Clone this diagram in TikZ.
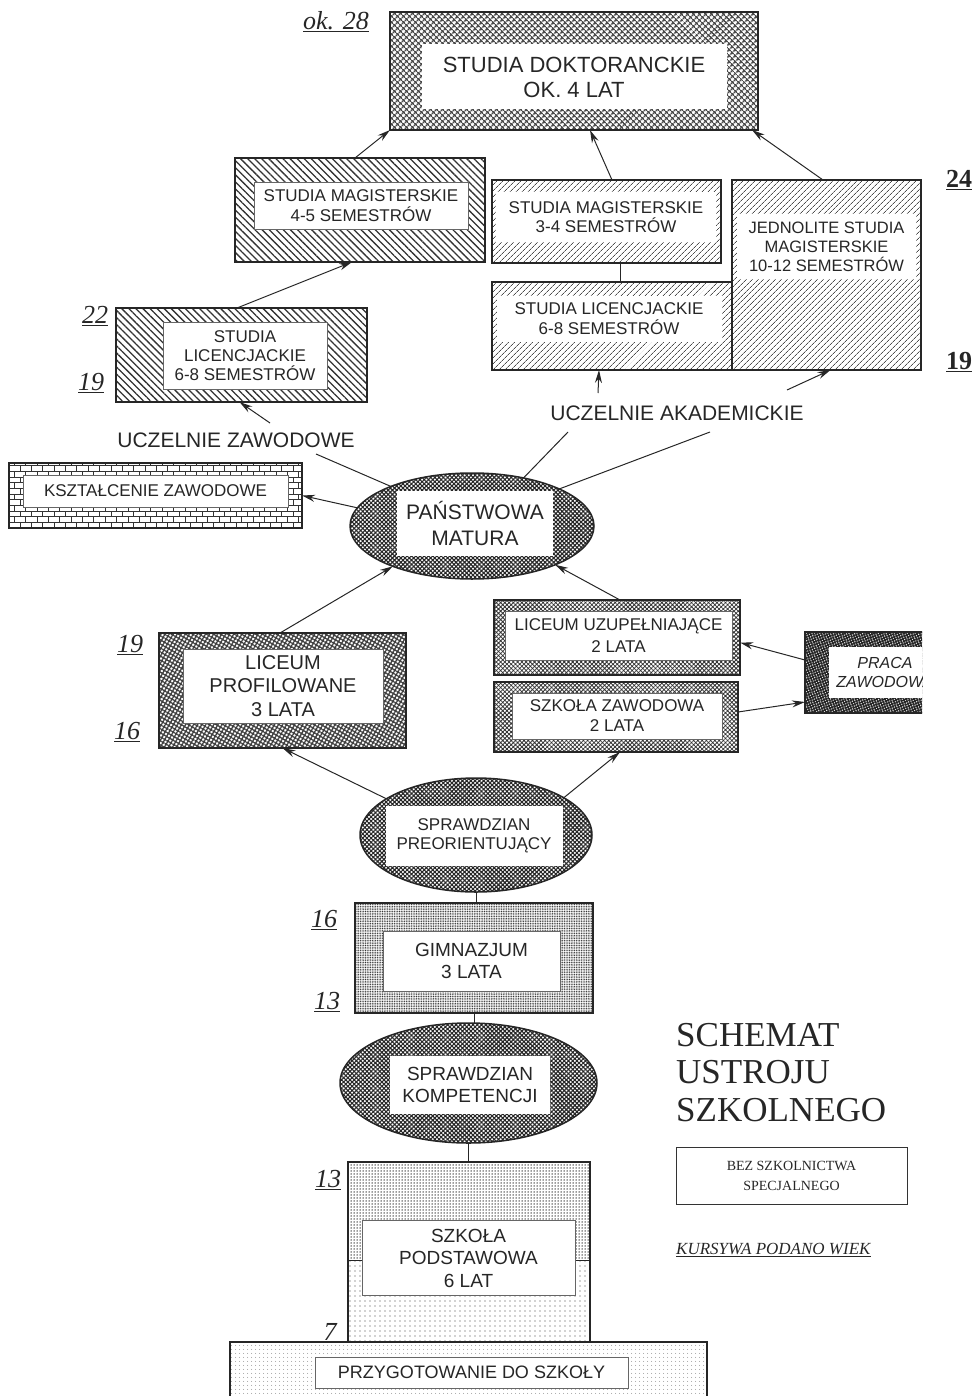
\documentclass[tikz,border=0pt]{standalone}
\usepackage{fontspec}
\setmainfont{Liberation Serif}
\setsansfont{Liberation Sans}
\usetikzlibrary{shapes.geometric,patterns,patterns.meta,arrows.meta}
\newcommand\myfs[2]{\fontsize{#1}{#2}\selectfont}
\begin{document}
\begin{tikzpicture}[x=1pt,y=-1pt,
  outer/.style={draw=black!85, line width=1.5pt, inner sep=0pt, outer sep=0pt},
  inbox/.style={draw=black!60, line width=0.5pt, fill=white, inner sep=0pt, align=center, text=black!85},
  tx/.style 2 args={font=\sffamily\myfs{#1}{#2}},
  hatchNW/.style={pattern={Lines[angle=-45,distance=5pt,line width=1.3pt]}, pattern color=black!80},
  hatchNE/.style={pattern={Lines[angle=45,distance=4pt,line width=0.8pt]}, pattern color=black!70},
  maze/.style={pattern={Hatch[angle=45,distance=4pt,line width=1.4pt]}, pattern color=black!70},
  checker/.style={pattern={Hatch[angle=45,distance=3pt,line width=1.1pt]}, pattern color=black!85},
  texprof/.style={pattern={Hatch[angle=60,distance=3.5pt,line width=1.3pt]}, pattern color=black!75},
  texuz/.style={pattern={Hatch[angle=45,distance=3pt,line width=0.8pt]}, pattern color=black!80},
  texpraca/.style={pattern={Hatch[angle=20,distance=2.5pt,line width=1.4pt]}, pattern color=black!85},
  brick/.style={pattern=bricks, pattern color=black!80},
  fined/.style={pattern={Dots[radius=0.6pt,distance=1.7pt]}, pattern color=black!80},
  densd/.style={pattern={Dots[radius=0.75pt,distance=3pt]}, pattern color=black!80},
  sparsed/.style={pattern={Dots[radius=0.7pt,distance=5pt]}, pattern color=black!75},
  speck/.style={pattern={Dots[radius=0.55pt,distance=4pt]}, pattern color=black!55},
  age/.style={font=\itshape\myfs{26}{30}, text=black!85, inner sep=0pt},
  rage/.style={font=\bfseries\myfs{26}{30}, text=black!85, inner sep=0pt},
  lbl/.style={tx={21}{25}, text=black!85, inner sep=0pt},
  arr/.style={draw=black!85, line width=1pt, -{Stealth[length=13pt,width=7pt]}},
  ln/.style={draw=black!85, line width=1pt}]
\useasboundingbox (0,0) rectangle (973,1396);
\clip (0,0) rectangle (973,1396);

% Studia doktoranckie
\node[outer, maze, minimum width=368pt, minimum height=118pt] (dok) at (574,71) {};
\node[inbox, draw=none, tx={22}{25}, minimum width=305pt, minimum height=65pt] (dokt) at (574,77) {STUDIA DOKTORANCKIE\\OK. 4 LAT};
\node[age] (a28) at (336,22) {\underline{ok. 28}};

% Studia magisterskie 4-5
\node[outer, hatchNW, minimum width=250pt, minimum height=104pt] (m45) at (360,210) {};
\node[inbox, tx={17}{20}, minimum width=214pt, minimum height=47pt] (m45t) at (361,206) {STUDIA MAGISTERSKIE\\4-5 SEMESTRÓW};

% Studia licencjackie (zawodowe)
\node[outer, hatchNW, minimum width=251pt, minimum height=94pt] (lzaw) at (241.5,355) {};
\node[inbox, tx={17}{19}, minimum width=164pt, minimum height=67pt] (lzawt) at (245,356) {STUDIA\\LICENCJACKIE\\6-8 SEMESTRÓW};
\node[age] (a22) at (95,316) {\underline{22}};
\node[age] (a19a) at (91,383) {\underline{19}};

% Akademickie
\node[outer, hatchNE, minimum width=229pt, minimum height=83pt] (m34) at (606.5,221.5) {};
\node[inbox, draw=none, tx={17}{19}, minimum width=220pt, minimum height=50pt] (m34t) at (606,217) {STUDIA MAGISTERSKIE\\3-4 SEMESTRÓW};
\node[outer, hatchNE, minimum width=240pt, minimum height=88pt] (lakad) at (612,326) {};
\node[inbox, draw=none, tx={17}{20}, minimum width=225pt, minimum height=46pt] (lakadt) at (609,319) {STUDIA LICENCJACKIE\\6-8 SEMESTRÓW};
\node[outer, hatchNE, minimum width=189pt, minimum height=190pt] (jedn) at (826.5,275) {};
\node[inbox, draw=none, tx={16.5}{19}, minimum width=179pt, minimum height=65pt] (jednt) at (826.5,247) {JEDNOLITE STUDIA\\MAGISTERSKIE\\10-12 SEMESTRÓW};
\node[rage] (a24) at (959,180) {\underline{24}};
\node[rage] (a19b) at (959,362) {\underline{19}};

% Labels of universities
\node[lbl] (uzaw) at (236,440) {UCZELNIE ZAWODOWE};
\node[lbl] (uakad) at (677,413) {UCZELNIE AKADEMICKIE};
\coordinate (czw) at (316,454);
\coordinate (czw2) at (270,423);
\coordinate (cak1) at (568,432);
\coordinate (cak2) at (710,432);
\coordinate (cak3) at (598,393);
\coordinate (cak4) at (787,390);

% Ksztalcenie zawodowe
\node[outer, brick, minimum width=293pt, minimum height=65pt] (ksz) at (155.5,495.5) {};
\node[inbox, tx={17}{20}, minimum width=265pt, minimum height=32pt] (kszt) at (155.5,491) {KSZTAŁCENIE ZAWODOWE};

% Matura
\node[ellipse, outer, checker, minimum width=244pt, minimum height=106pt] (mat) at (472,526) {};
\node[inbox, draw=none, tx={21}{26}, minimum width=156pt, minimum height=65pt] (matt) at (475,523) {PAŃSTWOWA\\MATURA};

% Liceum profilowane
\node[outer, texprof, minimum width=247pt, minimum height=115pt] (lprof) at (282.5,690.5) {};
\node[inbox, tx={20}{23.5}, minimum width=200pt, minimum height=74pt] (lproft) at (283,686) {LICEUM\\PROFILOWANE\\3 LATA};
\node[age] (a19c) at (130,645) {\underline{19}};
\node[age] (a16a) at (127,732) {\underline{16}};

% Liceum uzupelniajace, szkola zawodowa
\node[outer, texuz, minimum width=246pt, minimum height=75pt] (luz) at (617,637.5) {};
\node[inbox, tx={17}{22}, minimum width=227pt, minimum height=49pt] (luzt) at (618.5,635.5) {LICEUM UZUPEŁNIAJĄCE\\2 LATA};
\node[outer, texuz, minimum width=244pt, minimum height=70pt] (szk) at (616,717) {};
\node[inbox, tx={17}{20}, minimum width=210pt, minimum height=46pt] (szkt) at (617,716) {SZKOŁA ZAWODOWA\\2 LATA};

% Praca zawodowa (cut at the right)
\begin{scope}
\clip (790,600) rectangle (922,730);
\node[outer, texpraca, minimum width=140pt, minimum height=81pt] (praca) at (875,672.5) {};
\node[inbox, draw=none, font=\sffamily\itshape\myfs{16}{19}, minimum width=112pt, minimum height=51pt] (pracat) at (885,672) {PRACA\\ZAWODOWA};
\end{scope}

% Sprawdzian preorientujacy
\node[ellipse, outer, checker, minimum width=232pt, minimum height=114pt] (spr) at (476,835) {};
\node[inbox, draw=none, tx={17}{19}, minimum width=177pt, minimum height=60pt] (sprt) at (474,836) {SPRAWDZIAN\\PREORIENTUJĄCY};

% Gimnazjum
\node[outer, fined, minimum width=238pt, minimum height=110pt] (gim) at (474,958) {};
\node[inbox, tx={19}{22}, minimum width=177pt, minimum height=60pt] (gimt) at (471.5,961) {GIMNAZJUM\\3 LATA};
\node[age] (a16b) at (324,920) {\underline{16}};
\node[age] (a13a) at (327,1002) {\underline{13}};

% Sprawdzian kompetencji
\node[ellipse, outer, checker, minimum width=257pt, minimum height=120pt] (komp) at (468.5,1083) {};
\node[inbox, draw=none, tx={19}{22}, minimum width=160pt, minimum height=58pt] (kompt) at (470,1085) {SPRAWDZIAN\\KOMPETENCJI};

% Szkola podstawowa
\fill[densd] (348,1162) rectangle (590,1260);
\fill[sparsed] (348,1260) rectangle (590,1342);
\node[outer, minimum width=242pt, minimum height=180pt] (sp) at (469,1252) {};
\draw[ln] (348,1260) -- (362,1260) (575,1260) -- (590,1260);
\node[inbox, tx={19}{22.5}, minimum width=213pt, minimum height=75pt] (spt) at (468.5,1258) {SZKOŁA\\PODSTAWOWA\\6 LAT};
\node[age] (a13b) at (328,1180) {\underline{13}};
\node[age] (a7) at (330,1332) {7};

% Przygotowanie do szkoly
\node[outer, speck, minimum width=477pt, minimum height=64pt] (prz) at (468.5,1374) {};
\node[inbox, tx={18}{21}, minimum width=313pt, minimum height=31pt] (przt) at (471.5,1372.5) {PRZYGOTOWANIE DO SZKOŁY};

% Title and legend
\node[anchor=west, font=\myfs{35}{40}, text=black!85, inner sep=0pt] (t1) at (676,1035) {SCHEMAT};
\node[anchor=west, font=\myfs{35}{40}, text=black!85, inner sep=0pt] (t2) at (676,1072) {USTROJU};
\node[anchor=west, font=\myfs{35}{40}, text=black!85, inner sep=0pt] (t3) at (676,1110) {SZKOLNEGO};
\node[draw=black!80, line width=0.8pt, minimum width=231pt, minimum height=57pt, align=center, font=\myfs{14}{20}, text=black!85] (bez) at (791.5,1175.5) {BEZ SZKOLNICTWA\\SPECJALNEGO};
\node[anchor=west, font=\itshape\myfs{17}{20}, text=black!85, inner sep=0pt] (kurs) at (676,1250) {\underline{KURSYWA PODANO WIEK}};

% Connectors
\draw[arr] ([xshift=-4.5pt]lzaw.north) -- ([xshift=-8pt]m45.south);
\draw[arr] ([xshift=-5pt]m45.north) -- (dok.south west);
\draw[arr] ([xshift=5.5pt]m34.north) -- ([xshift=16pt]dok.south);
\draw[arr] ([xshift=-3.5pt]jedn.north) -- ([xshift=-6pt]dok.south east);
\draw[ln] ([xshift=13.5pt]m34.south) -- ([xshift=8pt]lakad.north);
\draw[arr] (cak3) -- ([xshift=-13pt]lakad.south);
\draw[arr] (cak4) -- ([xshift=4pt]jedn.south);
\draw[arr] (czw2) -- ([xshift=-2pt]lzaw.south);
\draw[ln] (czw) -- (mat.154);
\draw[ln] (cak1) -- (mat.43);
\draw[ln] (cak2) -- (mat.23);
\draw[arr] (mat.171) -- (ksz.east);
\draw[arr] ([xshift=-2.5pt]lprof.north) -- (mat.207);
\draw[arr] ([xshift=3pt]luz.north) -- (mat.335);
\draw[arr] ([yshift=12.5pt]praca.west) -- ([yshift=-5pt]luz.east);
\draw[arr] ([yshift=5pt]szk.east) -- ([yshift=-29.5pt]praca.west);
\draw[arr] (spr.158) -- (lprof.south);
\draw[arr] (spr.23) -- ([xshift=4pt]szk.south);
\draw[ln] (spr.south) -- (spr.south |- gim.north);
\draw[ln] (gim.south) -- (gim.south |- komp.north);
\draw[ln] (komp.south) -- (komp.south |- sp.north);
\end{tikzpicture}
\end{document}
